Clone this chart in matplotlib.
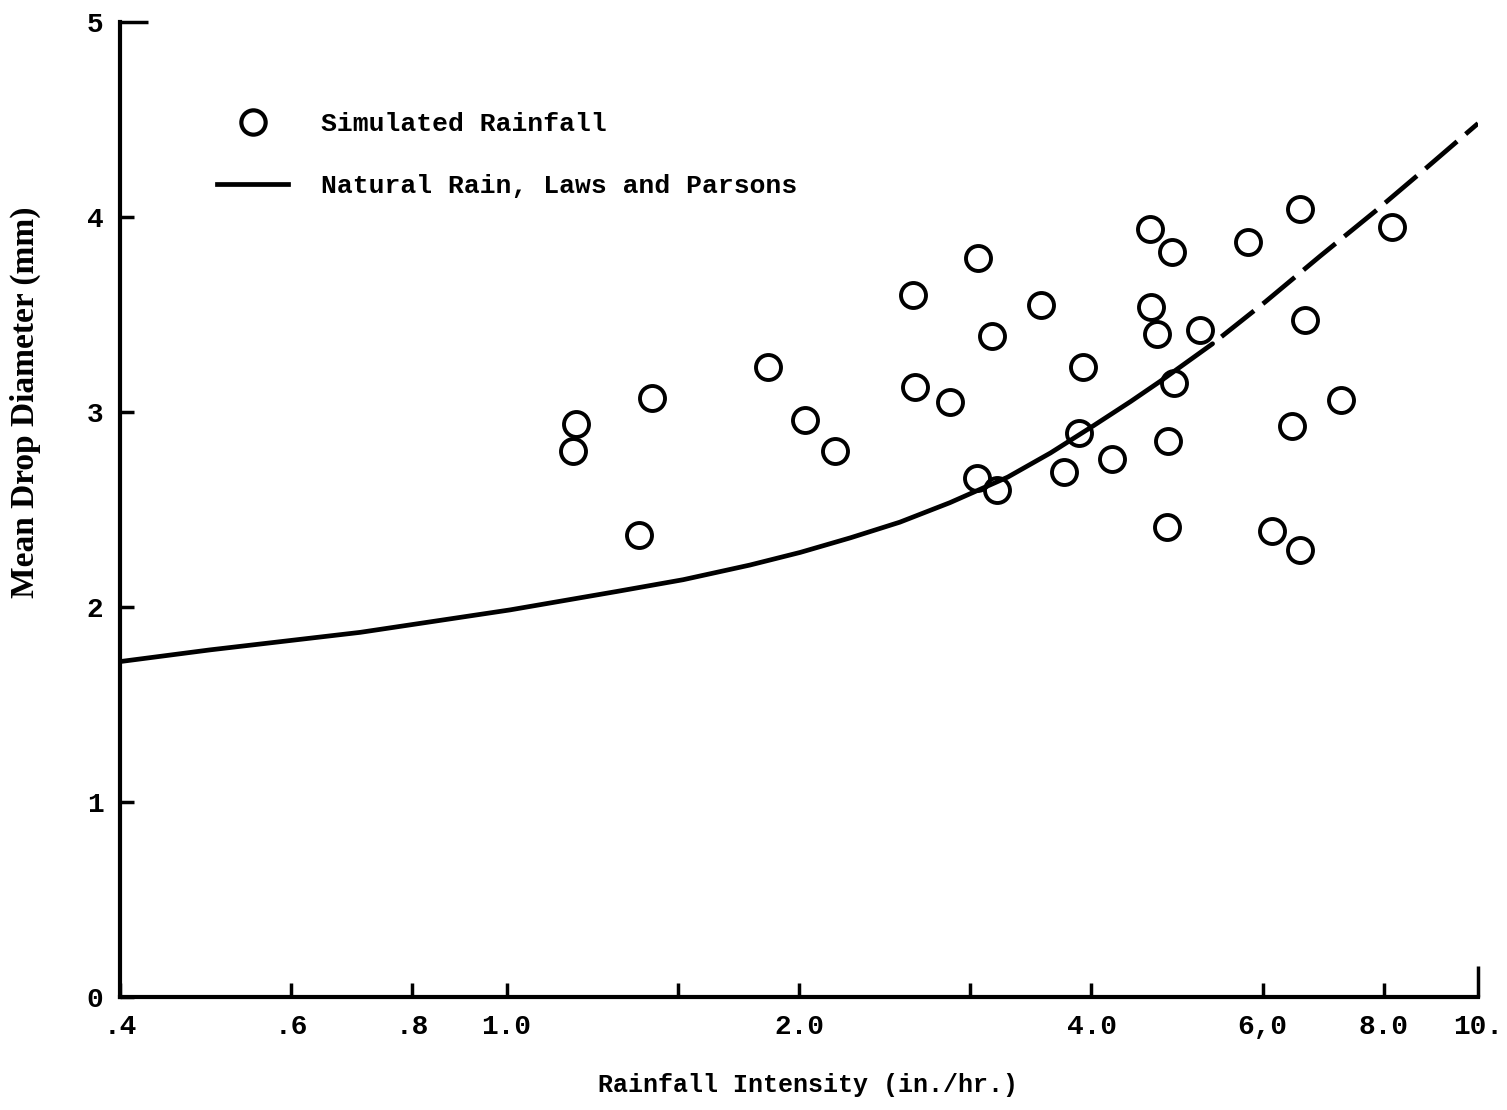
import numpy as np
import matplotlib
matplotlib.use("Agg")
import matplotlib.pyplot as plt
from matplotlib.lines import Line2D

# Simulated rainfall observations (intensity in./hr., mean drop diameter mm)
sim_intensity = [1.18, 1.17, 1.37, 1.41, 1.86, 2.03, 2.18, 2.62, 2.63, 2.86,
                 3.06, 3.05, 3.16, 3.20, 3.55, 3.75, 3.92, 3.88, 4.20, 4.60,
                 4.61, 4.67, 4.84, 4.78, 4.79, 4.87, 5.17, 5.79, 6.13, 6.44,
                 6.55, 6.55, 6.63, 7.22, 8.15]
sim_diameter = [2.94, 2.80, 2.37, 3.07, 3.23, 2.96, 2.80, 3.60, 3.13, 3.05,
                3.79, 2.66, 3.39, 2.60, 3.55, 2.69, 3.23, 2.89, 2.76, 3.94,
                3.54, 3.40, 3.82, 2.41, 2.85, 3.15, 3.42, 3.87, 2.39, 2.93,
                4.04, 2.29, 3.47, 3.06, 3.95]

# Laws and Parsons curve: solid part then extrapolated (dashed) part
lp_solid_x = [0.4, 0.495, 0.707, 1.008, 1.30, 1.52, 1.78, 2.006, 2.26, 2.54,
              2.86, 3.28, 3.63, 4.02, 4.39, 4.71, 5.33]
lp_solid_y = [1.72, 1.78, 1.87, 1.985, 2.08, 2.14, 2.215, 2.28, 2.355, 2.435,
              2.535, 2.666, 2.79, 2.93, 3.054, 3.158, 3.35]
lp_dash_x = [5.33, 6.04, 6.88, 7.84, 8.79, 10.0]
lp_dash_y = [3.35, 3.565, 3.80, 4.03, 4.24, 4.48]

xticks = [0.4, 0.6, 0.8, 1.0, 1.5, 2.0, 3.0, 4.0, 6.0, 8.0, 10.0]
xticklabels = ['.4', '.6', '.8', '1.0', '', '2.0', '', '4.0', '6,0', '8.0', '10.']
yticks = [0, 1, 2, 3, 4, 5]

FONT = 'Liberation Mono'

fig = plt.figure(figsize=(15.07, 11.10), dpi=100)
ax = fig.add_axes([0.0796, 0.1018, 0.9012, 0.8784])

ax.plot(sim_intensity, sim_diameter, 'o', mfc='none', mec='black', ms=18, mew=2.8)
ax.plot(lp_solid_x, lp_solid_y, color='black', lw=3.4, solid_capstyle='round',
        solid_joinstyle='round')
# extrapolated part starts with a gap, then long dashes
ax.plot(lp_dash_x, lp_dash_y, color='black', lw=3.4, ls=(8.8, (8.8, 2.4)))

ax.set_xscale('log')
ax.set_xlim(0.4, 10.0)
ax.set_ylim(0, 5)

ax.set_xticks(xticks)
ax.set_xticklabels(xticklabels)
ax.xaxis.set_minor_locator(matplotlib.ticker.NullLocator())
ax.set_yticks(yticks)
ax.set_yticklabels([str(v) for v in yticks])

ax.tick_params(axis='both', direction='in', width=2.5, length=10, labelsize=20)
ax.tick_params(axis='x', pad=12)
ax.tick_params(axis='y', pad=12)
# longer end ticks as in the original
ax.xaxis.get_major_ticks()[-1].tick1line.set_markersize(22)
ax.yaxis.get_major_ticks()[-1].tick1line.set_markersize(20)

for lab in ax.get_xticklabels() + ax.get_yticklabels():
    lab.set_fontfamily(FONT)
    lab.set_fontweight('bold')

for side in ['top', 'right']:
    ax.spines[side].set_visible(False)
for side in ['left', 'bottom']:
    ax.spines[side].set_linewidth(3)

fig.text(0.536, 0.0225, 'Rainfall Intensity (in./hr.)', ha='center', va='center',
         fontsize=18, fontfamily=FONT, fontweight='bold')
fig.text(0.017, 0.638, 'Mean Drop Diameter (mm)', rotation=90, ha='center',
         va='center', fontsize=24, fontfamily='Liberation Serif', fontweight='bold')

handles = [Line2D([], [], ls='none', marker='o', mfc='none', mec='black', ms=17.5, mew=3),
           Line2D([], [], color='black', lw=3.4)]
leg = ax.legend(handles, ['Simulated Rainfall', 'Natural Rain, Laws and Parsons'],
                loc='upper left', bbox_to_anchor=(0.054, 0.932), frameon=False,
                handlelength=2.7, handletextpad=1.25, labelspacing=1.45,
                prop={'family': FONT, 'weight': 'bold', 'size': 19})

fig.savefig('out.png', dpi=100, facecolor='white')
